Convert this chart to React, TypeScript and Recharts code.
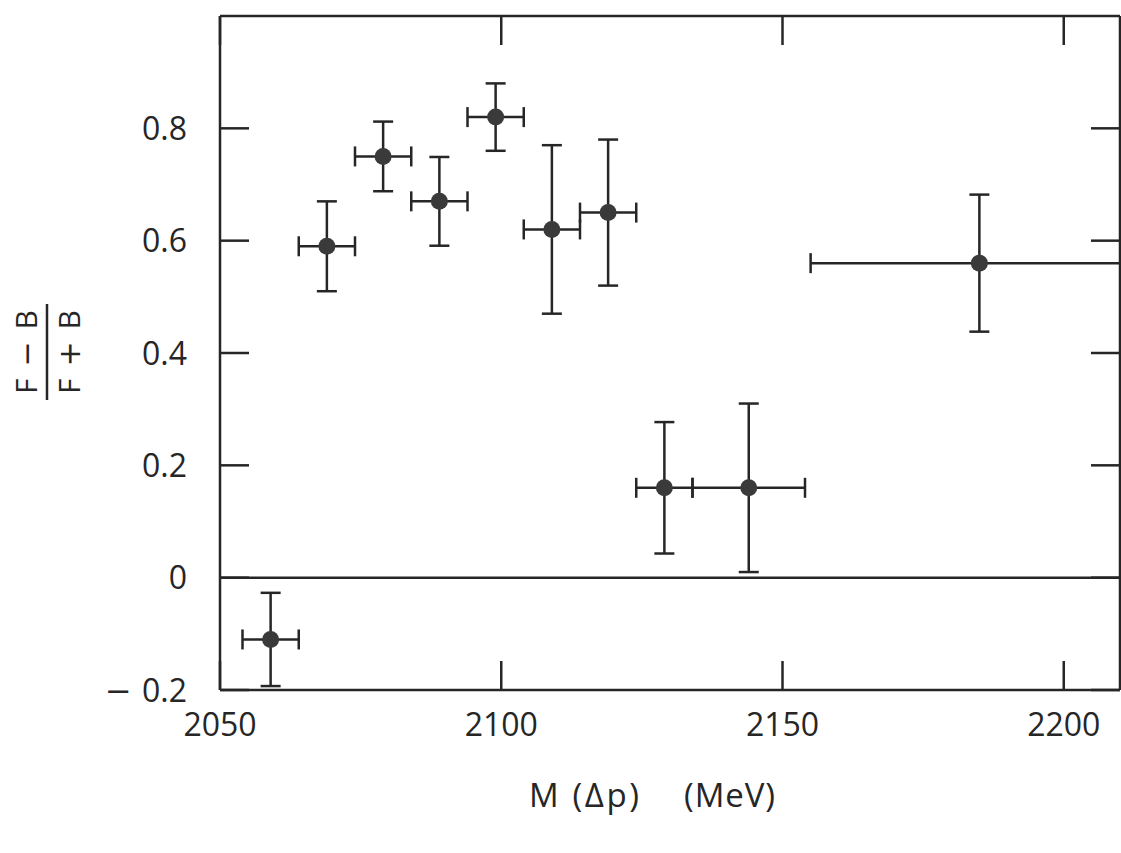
import { ScatterChart, Scatter, XAxis, YAxis, ErrorBar, ReferenceLine } from 'recharts';

const masses = [2059, 2069, 2079, 2089, 2099, 2109, 2119, 2129, 2144, 2185];
const massErrors = [5, 5, 5, 5, 5, 5, 5, 5, 10, 30];
const asymmetry = [-0.11, 0.59, 0.75, 0.67, 0.82, 0.62, 0.65, 0.16, 0.16, 0.56];
const asymmetryErrors = [0.083, 0.08, 0.062, 0.079, 0.06, 0.15, 0.13, 0.117, 0.15, 0.122];

const xTicks = [2050, 2100, 2150, 2200];
const yTicks = [-0.2, 0, 0.2, 0.4, 0.6, 0.8];

const ink = '#262626';
const font = '"Open Sans", "DejaVu Sans", sans-serif';
const TICK_LEN = 29;
const LW = 2.5;

const data = masses.map((m, i) => ({
  m,
  a: asymmetry[i],
  em: massErrors[i],
  ea: asymmetryErrors[i],
}));

const formatY = (v: number) => (v === 0 ? '0' : Math.abs(v).toFixed(1));

// inward ticks drawn by hand, since the axis tick lines did not show up on every side
const BottomTick = (props: any) => {
  const { x, y, payload } = props;
  return (
    <g>
      <line x1={x} x2={x} y1={y} y2={y - TICK_LEN} stroke={ink} strokeWidth={LW} />
      <text x={x} y={y + 46} textAnchor="middle" fill={ink} fontFamily={font} fontSize={32}>
        {payload.value}
      </text>
    </g>
  );
};

const TopTick = (props: any) => {
  const { x, y } = props;
  return <line x1={x} x2={x} y1={y} y2={y + TICK_LEN} stroke={ink} strokeWidth={LW} />;
};

const LeftTick = (props: any) => {
  const { x, y, payload } = props;
  return (
    <g>
      <line x1={x} x2={x + TICK_LEN} y1={y} y2={y} stroke={ink} strokeWidth={LW} />
      <text x={x - 33} y={y} dy="0.36em" textAnchor="end" fill={ink} fontFamily={font} fontSize={32} style={{ whiteSpace: 'pre' }}>
        {payload.value < 0 && <tspan fontFamily='"DejaVu Sans"'>{'\u2212 '}</tspan>}
        {formatY(payload.value)}
      </text>
    </g>
  );
};

const RightTick = (props: any) => {
  const { x, y } = props;
  return <line x1={x - TICK_LEN} x2={x} y1={y} y2={y} stroke={ink} strokeWidth={LW} />;
};

const FractionLabel = (props: any) => {
  const { viewBox } = props;
  if (!viewBox) return null;
  const cx = viewBox.x + 47;
  const cy = 352;
  return (
    <g transform={`translate(${cx}, ${cy}) rotate(-90)`} fill={ink} fontFamily={font} fontSize={30}>
      <text x={-42} y={-10} textLength={84} lengthAdjust="spacing" style={{ whiteSpace: 'pre' }}>
        F <tspan fontFamily='"DejaVu Sans"'>{'\u2212'}</tspan> B
      </text>
      <line x1={-48} x2={48} y1={0} y2={0} stroke={ink} strokeWidth={LW} />
      <text x={-42} y={33} textLength={84} lengthAdjust="spacing" style={{ whiteSpace: 'pre' }}>
        F <tspan fontFamily='"DejaVu Sans"'>+</tspan> B
      </text>
    </g>
  );
};

const MassLabel = (props: any) => {
  const { viewBox } = props;
  if (!viewBox) return null;
  const base = viewBox.y + 117;
  return (
    <g fill={ink} fontFamily={font} fontSize={33}>
      <text x={viewBox.x + 309} y={base} textLength={110} lengthAdjust="spacing">M ({'\u0394'}p)</text>
      <text x={viewBox.x + 464} y={base} textLength={91} lengthAdjust="spacing">(MeV)</text>
    </g>
  );
};

const Dot = (props: any) => {
  const { cx, cy } = props;
  if (cx == null || cy == null) return null;
  return <circle cx={cx} cy={cy} r={8.5} fill="#3a3a3a" />;
};

export default function App() {
  const frame = { stroke: ink, strokeWidth: LW };
  return (
    <div style={{ position: 'absolute', left: 0, top: 0, width: 1121, height: 853, background: '#fff' }}>
      <ScatterChart width={1121} height={853} margin={{ top: 15, right: 0, bottom: 0, left: 0 }}>
        <XAxis
          dataKey="m"
          type="number"
          domain={[2050, 2210]}
          ticks={xTicks}
          allowDataOverflow
          height={163}
          axisLine={frame}
          tickLine={false}
          tickSize={0}
          tickMargin={0}
          tick={<BottomTick />}
          label={<MassLabel />}
        />
        <XAxis
          xAxisId="top"
          orientation="top"
          dataKey="m"
          type="number"
          domain={[2050, 2210]}
          ticks={xTicks}
          allowDataOverflow
          height={1}
          axisLine={frame}
          tickLine={false}
          tickSize={0}
          tickMargin={0}
          tick={<TopTick />}
        />
        <YAxis
          dataKey="a"
          type="number"
          domain={[-0.2, 1.0]}
          ticks={yTicks}
          allowDataOverflow
          width={220}
          axisLine={frame}
          tickLine={false}
          tickSize={0}
          tickMargin={0}
          tick={<LeftTick />}
          label={<FractionLabel />}
        />
        <YAxis
          yAxisId="right"
          orientation="right"
          dataKey="a"
          type="number"
          domain={[-0.2, 1.0]}
          ticks={yTicks}
          allowDataOverflow
          width={1}
          axisLine={frame}
          tickLine={false}
          tickSize={0}
          tickMargin={0}
          tick={<RightTick />}
        />
        <ReferenceLine y={0} stroke={ink} strokeWidth={LW} />
        <Scatter data={data} shape={<Dot />} isAnimationActive={false}>
          <ErrorBar dataKey="em" direction="x" width={10} stroke={ink} strokeWidth={LW} />
          <ErrorBar dataKey="ea" direction="y" width={10} stroke={ink} strokeWidth={LW} />
        </Scatter>
      </ScatterChart>
    </div>
  );
}
